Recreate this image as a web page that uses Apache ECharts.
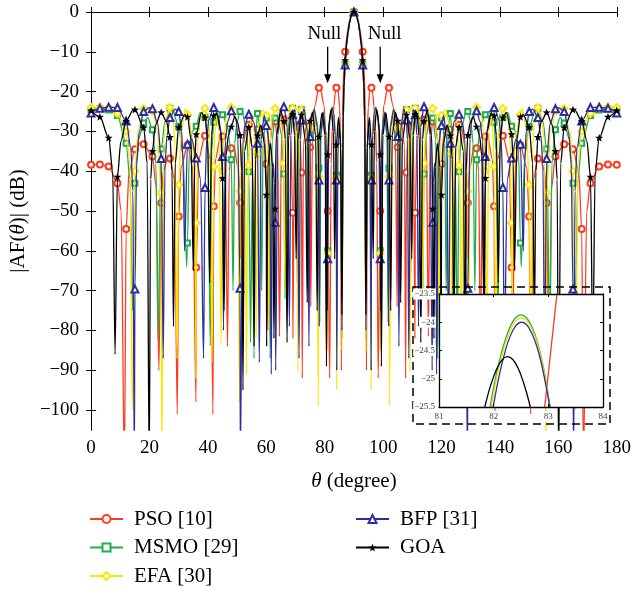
<!DOCTYPE html>
<html><head><meta charset="utf-8">
<script src="https://cdn.jsdelivr.net/npm/echarts@6/dist/echarts.min.js"></script>
<style>html,body{margin:0;padding:0;background:#fff}#c{width:634px;height:589px}</style>
</head><body><div id="c"></div>
<script>
// ---------- data (0..90 deg, pattern is symmetric about 90 deg) ----------
const seriesNames = ['PSO [10]', 'MSMO [29]', 'EFA [30]', 'BFP [31]', 'GOA'];

const psoHalf = [
[0,-38.4],[3,-38.3],[6,-38.8],[9,-43],[10.3,-50],[11.4,-115],
[12,-54.5],[13,-40],[15,-34.5],[17,-32.8],[18,-33.2],[21,-36.3],[22.3,-44],[23.2,-90],
[24,-48],[24.7,-40],[26.3,-36.5],[27,-36.8],[28.5,-42],[29.5,-101],
[30,-51.4],[30.8,-39],[33,-33.5],[34.8,-39],[35.9,-98],
[36,-64.2],[36.8,-37],[39,-31.1],[40.8,-37],[41.7,-101],
[42,-48.8],[42.6,-37],[44.3,-31],[45,-31.3],[45.9,-37],[46.7,-84],
[47.3,-40],[48,-34.2],[48.8,-33.5],[50.3,-39],[51,-47.9],[51.2,-62],
[51.8,-34],[53.5,-28],[54,-28.3],[55.1,-34],[55.8,-70],
[56.4,-35],[57,-29.5],[57.9,-28.5],[59.3,-31],[60,-38.2],[60.5,-80],
[61.1,-33],[62.4,-27],[63,-27.5],[63.9,-33],[64.5,-81.5],
[65.2,-32],[66,-27],[66.8,-26],[68.4,-32],[69,-50.4],[69.1,-82],
[69.6,-33.5],[70.7,-27.5],[71.7,-33.5],[72,-40.3],[72.3,-92],
[72.7,-33.5],[73.8,-27.5],[74.8,-31],[75,-34],[75.2,-74],
[75.8,-32],[76.6,-23.5],[78,-19],[78.4,-18.9],[79.8,-23.5],[80.3,-32],[80.6,-85],
[81,-50],[81.7,-92],
[82.2,-38],[82.6,-29],[82.93,-25.5],[83.16,-23.5],[83.5,-20.8],[84,-19],[84.6,-19.8],[85.1,-24],[85.4,-31],[85.7,-90],
[86.1,-25],[86.5,-14.5],[87,-10],[87.5,-6.6],[88,-4],[88.5,-2.2],[89,-0.9],[89.5,-0.2],[90,0]
];

const msmoHalf = [
[0,-24.5],[3,-24.3],[6,-24.6],[9,-26],[12,-33],[13.3,-42],[14.2,-75],
[15,-43],[16.2,-32],[18,-27.9],[19.4,-26.5],[21,-29.6],[22.2,-38],[22.9,-82.5],
[24,-34.4],[25.3,-27.5],[27,-24.2],[27.6,-24.1],[30,-28.8],[31.5,-36],[32.7,-64],
[33,-58],[33.6,-36],[34.6,-30],[36,-28.7],[37.3,-25.3],[39,-26.5],[40,-32],[40.8,-83.8],
[41.3,-35],[42,-27.7],[43.8,-25],[45,-25.8],[46.8,-29],[48,-37.1],[48.6,-70],
[49.2,-33],[49.9,-28],[51,-25],[51.5,-24.9],[53.2,-29],[54,-40.1],[54.6,-83],
[55.2,-42],[55.8,-87],
[56.3,-32],[57,-25.5],[57.8,-29],[58.4,-70],
[58.9,-32],[60,-26.6],[60.8,-31],[61.3,-87],
[62,-32],[63,-26.6],[63.7,-26],[65.3,-31],[66,-40.7],[66.4,-72],
[67,-31],[68.5,-24],[69,-24.2],[70,-30],[70.6,-68],
[71.2,-30],[72,-24.5],[72.6,-24.2],[73.8,-30],[74.4,-70],
[75,-30.9],[75.5,-27],[76.3,-24.3],[77.5,-28],[78,-39.2],[78.3,-78],
[78.7,-31],[79.6,-25],[80.5,-31],[80.95,-80],
[81,-60],[81.4,-30],[81.9,-25.4],[82.5,-23.85],[83.1,-25.4],[83.6,-31],[84,-41],[84.1,-90],
[84.5,-34],[85,-28.5],[85.5,-34],[85.9,-82],
[86.3,-28],[86.6,-19],[87,-13.2],[87.5,-8.4],[88,-5.1],[88.5,-2.8],[89,-1.2],[89.5,-0.3],[90,0]
];

const efaHalf = [
[0,-24],[3,-23.9],[6,-24],[9,-25.5],[12,-30],[13.3,-38],[14.1,-100],
[15,-40],[16,-30],[18,-24.3],[19.2,-24],[21,-24.8],[22.7,-30],[24,-45.4],[24.2,-115],
[24.9,-32],[25.6,-27],[27,-24],[28.1,-27],[28.7,-33],[29.4,-87],
[30,-43.4],[30.8,-30],[32.3,-24.3],[33,-25.8],[34.6,-31],[35.6,-45],[35.9,-92],
[36,-53],[36.6,-31],[37.3,-27],[38.7,-24],[39,-24.2],[40.3,-28],[40.8,-34],[41.4,-88],
[42,-38.8],[42.4,-30],[43,-26],[43.8,-30],[44.5,-83.6],
[45,-40],[45.6,-30],[46.5,-26],[48,-23.9],[49.5,-26],[50.2,-31],[50.8,-98],
[51,-45],[51.5,-36],[52.1,-33],[52.7,-37],[53.2,-91],
[53.6,-45],[54,-38.5],[54.5,-29],[55,-25.5],[55.8,-28],[56.5,-82],
[57,-35.7],[57.5,-28],[58.6,-24.5],[60,-26],[60.4,-31],[60.8,-79],
[61.4,-31],[62,-26.5],[63,-24.2],[64.4,-25.5],[65.5,-30],[66,-38],[66.4,-70],
[67,-30],[67.6,-26],[68.6,-24],[69,-24.2],[70,-28],[70.4,-34],[70.8,-90.3],
[71.3,-30],[72,-24.6],[72.6,-24],[73.9,-30],[74.4,-70],
[75,-29],[76.1,-24.2],[77.3,-30],[77.8,-98.9],
[78,-41.4],[78.4,-31],[79.5,-25],[80.5,-31],[80.95,-85],
[81,-60.6],[81.4,-30],[81.92,-25.5],[82.5,-23.9],[83.08,-25.5],[83.6,-31],[84,-41.6],[84.1,-95],
[84.5,-34],[85,-28.5],[85.5,-34],[85.9,-85],
[86.3,-28],[86.6,-19],[87,-13.2],[87.5,-8.4],[88,-5.1],[88.5,-2.8],[89,-1.2],[89.5,-0.3],[90,0]
];

const bfpHalf = [
[0,-25.4],[3,-24.2],[6,-23.9],[9,-24],[12,-27.4],[13.6,-34],[14.3,-45],[14.8,-115],
[15,-69.6],[15.6,-38],[16.5,-30],[18,-25],[20,-24],[21,-24.3],[22.8,-28],[24,-36.8],[24.7,-87],
[25.3,-38],[26,-31],[27,-26.5],[28.8,-24.4],[30,-25],[31,-30],[31.5,-38],[32,-60],
[33,-33.2],[34.5,-32],[36,-36.7],[37.5,-42],[38.5,-87],
[39,-44.1],[39.6,-32],[40.3,-27],[42,-24],[43.5,-26],[44.5,-30],[45,-36.3],[45.3,-80],
[46,-32],[46.8,-27.5],[48,-24.8],[49.6,-27],[50.3,-32],[51,-69.4],[51.1,-115],
[52,-32],[52.8,-28],[54,-25.7],[55.6,-27.5],[57,-33],[57.6,-88],
[58.2,-32],[59.3,-26],[60,-28.5],[61.1,-34],[61.7,-91],
[62.05,-42],[62.4,-38],[62.8,-43],[63,-52.8],[63.2,-90],
[63.9,-31],[64.5,-26.5],[65.7,-23.8],[66,-23.8],[67.2,-29],[67.9,-79],
[68.4,-31],[69,-25.8],[69.6,-24.5],[70.7,-30],[71.2,-87],
[71.7,-32],[72,-27.1],[72.9,-24.3],[74.1,-30],[74.6,-84],
[75,-31.3],[75.6,-26.5],[76.4,-24.5],[77.5,-29],[78,-42.2],[78.1,-79],
[78.5,-31],[79.5,-25.2],[80.5,-31],[80.9,-75],
[81,-62],[81.4,-30],[81.9,-25.5],[82.5,-24],[83.1,-25.5],[83.6,-31],[84,-42.2],[84.1,-90],
[84.5,-34],[85,-29],[85.5,-34],[85.9,-80],
[86.3,-28],[86.6,-19],[87,-13.3],[87.5,-8.4],[88,-5.1],[88.5,-2.8],[89,-1.2],[89.5,-0.3],[90,0]
];

const goaHalf = [
[0,-24.7],[3,-26.3],[6,-31.6],[7.4,-40],[8.2,-86],
[9,-41.4],[10.2,-32.5],[12,-27.4],[14.5,-24.5],[15,-24.5],[18,-29],[19.2,-38],[19.9,-115],
[20.4,-42],[21,-34.9],[22,-28.5],[24,-25.2],[25.8,-27.5],[27,-31.4],[27.7,-40],[28.2,-79],
[28.8,-38],[30,-28.9],[32,-25.8],[33,-26.3],[34.2,-32],[35,-65],
[35.5,-37],[36,-30.7],[37.8,-25.2],[39,-26.5],[39.9,-32],[40.6,-68],
[41.2,-31],[42,-26],[43,-25.5],[44.4,-30],[45,-41.7],[45.5,-75],
[46.2,-36],[47,-31],[48,-28.8],[49.2,-26.3],[50.2,-27.8],[51,-30.9],[51.6,-40],[52,-95],
[52.5,-35],[54,-28.9],[55.2,-34],[55.8,-84],
[56.3,-37],[57,-31],[58.1,-28.4],[59.4,-33],[60,-45.9],[60.1,-84],
[60.5,-39],[61.4,-33],[62.2,-39],[62.6,-82],
[63,-49.4],[63.4,-31],[64.9,-24.8],[66,-27.4],[66.5,-32],[67.1,-83],
[67.6,-31],[68.6,-25.1],[69,-25.7],[69.7,-31],[70.2,-62],
[70.8,-32],[72,-25.8],[73.4,-32],[74,-73],
[74.5,-33],[75,-27.3],[75.8,-25.2],[76.9,-31],[77.4,-75],
[78,-31.3],[79.1,-25.3],[80.1,-31],[80.6,-89],
[81,-35.8],[81.5,-27.5],[82.25,-24.6],[83,-30],[83.4,-62],
[84,-33.3],[84.7,-26.5],[85.4,-32],[85.9,-76],
[86.3,-26],[86.6,-17.5],[87,-12.1],[87.5,-7.8],[88,-4.8],[88.5,-2.6],[89,-1.1],[89.5,-0.3],[90,0]
];

// inset (zoom of the sidelobe near 82.5 deg)
const psoZoom  = [[82.9,-25.8],[83.18,-23.3]];
const msmoZoom = [[81.9,-25.7],[82.0,-25.15],[82.1,-24.7],[82.2,-24.35],[82.3,-24.08],[82.4,-23.92],[82.5,-23.87],[82.6,-23.92],[82.7,-24.08],[82.8,-24.35],[82.9,-24.75],[83.0,-25.3],[83.06,-25.7]];
const efaZoom  = [[81.92,-25.7],[82.0,-25.25],[82.1,-24.78],[82.2,-24.42],[82.3,-24.15],[82.4,-23.98],[82.5,-23.92],[82.6,-23.97],[82.7,-24.12],[82.8,-24.38],[82.9,-24.78],[83.0,-25.32],[83.05,-25.7]];
const bfpZoom  = [[81.96,-25.7],[82.0,-25.45],[82.1,-24.95],[82.2,-24.55],[82.3,-24.25],[82.4,-24.07],[82.5,-24.0],[82.6,-24.04],[82.7,-24.2],[82.8,-24.46],[82.9,-24.85],[83.0,-25.35],[83.07,-25.75]];
const goaZoom  = [[81.78,-25.75],[81.85,-25.45],[81.95,-25.1],[82.05,-24.84],[82.15,-24.67],[82.25,-24.61],[82.35,-24.66],[82.45,-24.82],[82.55,-25.08],[82.65,-25.42],[82.72,-25.75]];

const xTickValues = [0,20,40,60,80,100,120,140,160,180];
const yTickValues = [0,-10,-20,-30,-40,-50,-60,-70,-80,-90,-100];
const insetXTicks = [81,82,83,84];
const insetYTicks = [-23.5,-24,-24.5,-25,-25.5];
const nullLabels = ['Null','Null'];
const nullAngles = [81, 99];

// ---------- build ----------
function mirror(half) {
  const right = half.filter(p => p[0] < 90).map(p => [180 - p[0], p[1]]).reverse();
  return half.concat(right);
}
const FONT = 'Liberation Serif';
const colors = ['#ff3b1f', '#1fae4b', '#ffe600', '#2e2e9e', '#000000'];
const STAR = 'path://M0,-10L2.35,-3.24L9.51,-3.09L3.8,1.24L5.88,8.09L0,4L-5.88,8.09L-3.8,1.24L-9.51,-3.09L-2.35,-3.24Z';
const symbols = ['emptyCircle', 'emptyRect', 'emptyDiamond', 'emptyTriangle', STAR];
const symSizes = [6, 5, 7, 7, 8];
const halves = [psoHalf, msmoHalf, efaHalf, bfpHalf, goaHalf];
const zooms = [psoZoom, msmoZoom, efaZoom, bfpZoom, goaZoom];
const minus = v => String(v).replace('-', '\u2212');

const G = {left: 90, right: 16, top: 12, bottom: 159};
const I = {left: 439, top: 294, width: 164, height: 113};

const mainSeries = halves.map((h, i) => ({
  name: seriesNames[i], type: 'line', xAxisIndex: 0, yAxisIndex: 0,
  data: mirror(h), smooth: 0.3, smoothMonotone: 'x',
  symbol: symbols[i],
  symbolSize: (v) => (Math.abs(v[0] % 3) < 1e-9 ? symSizes[i] : 0),
  showSymbol: true, clip: true,
  lineStyle: {color: colors[i], width: 1.3},
  itemStyle: {color: colors[i], borderWidth: 1},
  emphasis: {disabled: true}, z: 2 + i * 0.01
}));
const insetSeries = zooms.map((d, i) => ({
  name: seriesNames[i] + ' ', type: 'line', xAxisIndex: 2, yAxisIndex: 2,
  data: d, smooth: 0.4, symbol: 'none', clip: true,
  lineStyle: {color: i === 2 ? '#f2dc00' : colors[i], width: 1.3},
  emphasis: {disabled: true}, z: 11
}));

const tickStyle = {inside: true, length: 5, lineStyle: {color: '#000'}};
const axisLineStyle = {show: true, lineStyle: {color: '#000', width: 1}};
const labelStyle = {color: '#000', fontFamily: FONT, fontSize: 19};
const legendText = {fontFamily: FONT, fontSize: 21, color: '#000', lineHeight: 22, padding: [0, 0, 0, 6]};
const nameStyle = {fontFamily: FONT, fontSize: 21, color: '#000', rich: {i: {fontStyle: 'italic', fontFamily: FONT, fontSize: 21}}};
const insetLabel = {color: '#444', fontFamily: FONT, fontSize: 9, backgroundColor: '#fff', padding: [1, 1, 1, 1]};

const chart = echarts.init(document.getElementById('c'), null, {renderer: 'canvas'});
const option = {
  animation: false,
  backgroundColor: '#fff',
  textStyle: {fontFamily: FONT},
  grid: [
    {left: G.left, right: G.right, top: G.top, bottom: G.bottom, containLabel: false},
    {left: I.left, top: I.top, width: I.width, height: I.height, containLabel: false}
  ],
  legend: [
    {data: seriesNames.slice(0, 3), orient: 'vertical', left: 89, top: 508, height: 81, padding: 0,
     itemWidth: 33, itemHeight: 10, itemGap: 6.5, textStyle: legendText, selectedMode: false},
    {data: seriesNames.slice(3), orient: 'vertical', left: 355, top: 508, height: 81, padding: 0,
     itemWidth: 33, itemHeight: 10, itemGap: 6.5, textStyle: legendText, selectedMode: false}
  ],
  xAxis: [
    {type: 'value', gridIndex: 0, min: 0, max: 180, interval: 20, position: 'bottom',
     axisLine: axisLineStyle, axisTick: tickStyle, splitLine: {show: false},
     axisLabel: Object.assign({margin: 9, customValues: xTickValues}, labelStyle),
     name: '{i|θ} (degree)', nameLocation: 'middle', nameGap: 41, nameTextStyle: nameStyle},
    {type: 'value', gridIndex: 0, min: 0, max: 180, interval: 20, position: 'top',
     axisLine: axisLineStyle, axisTick: tickStyle, axisLabel: {show: false}, splitLine: {show: false}},
    {type: 'value', gridIndex: 1, min: 81, max: 84, interval: 1, position: 'bottom', z: 12,
     axisLine: {show: true, lineStyle: {color: '#000', width: 1.3}}, axisTick: {inside: true, length: 3, lineStyle: {color: '#000'}},
     splitLine: {show: false}, axisLabel: Object.assign({margin: 4, customValues: insetXTicks}, insetLabel)},
    {type: 'value', gridIndex: 1, min: 81, max: 84, interval: 1, position: 'top', z: 12,
     axisLine: {show: true, lineStyle: {color: '#000', width: 1.3}}, axisTick: {inside: true, length: 3, lineStyle: {color: '#000'}},
     splitLine: {show: false}, axisLabel: {show: false}}
  ],
  yAxis: [
    {type: 'value', gridIndex: 0, min: -105, max: 0, position: 'left',
     axisLine: axisLineStyle, axisTick: Object.assign({customValues: yTickValues}, tickStyle), splitLine: {show: false},
     axisLabel: Object.assign({margin: 12, customValues: yTickValues, formatter: minus}, labelStyle),
     name: '|AF({i|θ})| (dB)', nameLocation: 'middle', nameGap: 62, nameRotate: 90, nameTextStyle: nameStyle},
    {type: 'value', gridIndex: 0, min: -105, max: 0, position: 'right',
     axisLine: axisLineStyle, axisTick: Object.assign({customValues: yTickValues}, tickStyle), axisLabel: {show: false}, splitLine: {show: false}},
    {type: 'value', gridIndex: 1, min: -25.5, max: -23.5, interval: 0.5, position: 'left', z: 12,
     axisLine: {show: true, lineStyle: {color: '#000', width: 1.3}}, axisTick: {inside: true, length: 3, lineStyle: {color: '#000'}},
     splitLine: {show: false}, axisLabel: Object.assign({margin: 3, customValues: insetYTicks, formatter: minus}, insetLabel)},
    {type: 'value', gridIndex: 1, min: -25.5, max: -23.5, interval: 0.5, position: 'right', z: 12,
     axisLine: {show: true, lineStyle: {color: '#000', width: 1.3}}, axisTick: {inside: true, length: 3, lineStyle: {color: '#000'}},
     splitLine: {show: false}, axisLabel: {show: false}}
  ],
  series: mainSeries.concat(insetSeries)
};
chart.setOption(option);

// annotations: inset background, dashed frame, "Null" arrows
const g = [];
g.push({type: 'rect', z: 10, silent: true, shape: {x: I.left, y: I.top, width: I.width, height: I.height}, style: {fill: '#fff'}});
g.push({type: 'rect', z: 10, silent: true, shape: {x: 413, y: 287, width: 197, height: 137}, style: {fill: 'none', stroke: '#000', lineWidth: 1.5, lineDash: [8, 5]}});
nullAngles.forEach((ang, k) => {
  const top = chart.convertToPixel({xAxisIndex: 0, yAxisIndex: 0}, [ang, -8.7]);
  const tip = chart.convertToPixel({xAxisIndex: 0, yAxisIndex: 0}, [ang, -17.9]);
  const txt = chart.convertToPixel({xAxisIndex: 0, yAxisIndex: 0}, [k === 0 ? 79.9 : 100.5, -5.5]);
  g.push({type: 'line', z: 20, silent: true, shape: {x1: top[0], y1: top[1], x2: tip[0], y2: tip[1] - 6}, style: {stroke: '#000', lineWidth: 1.3}});
  g.push({type: 'polygon', z: 20, silent: true, shape: {points: [[tip[0] - 3.5, tip[1] - 9], [tip[0] + 3.5, tip[1] - 9], [tip[0], tip[1]]]}, style: {fill: '#000'}});
  g.push({type: 'text', z: 20, silent: true, x: txt[0], y: txt[1], style: {text: nullLabels[k], font: '19px "Liberation Serif"', fill: '#000', align: 'center', verticalAlign: 'middle'}});
});
chart.setOption({graphic: g});
</script>
</body></html>
